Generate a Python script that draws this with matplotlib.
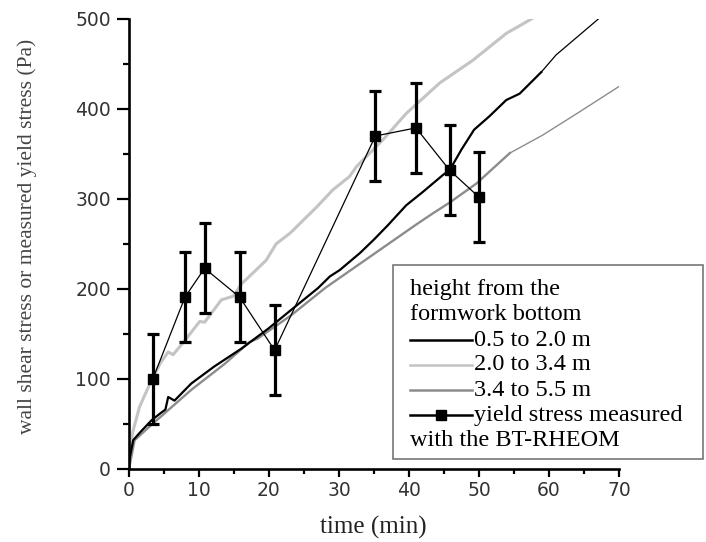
import numpy as np
import matplotlib.pyplot as plt
import matplotlib.lines as mlines
from matplotlib.patches import Rectangle
from matplotlib.ticker import MultipleLocator

# wall shear stress, 0.5 to 2.0 m
t_low = [0, 0.6, 1.5, 3.2, 4.5, 5.2, 5.6, 6.5, 8.9, 12.2, 16.1, 19.9, 23.2, 27.0,
         28.7, 30.1, 33.0, 35.0, 37.0, 39.6, 42.0, 44.9, 45.8, 47.5, 49.3, 51.5,
         53.9, 55.8, 58.9, 61.0, 67.2]
v_low = [8, 32, 40, 54, 62, 66, 80, 76, 95, 114, 134, 156, 177, 201,
         214, 221, 240, 255, 271, 293, 308, 327, 332, 355, 377, 392,
         410, 417, 441, 460, 501]

# 2.0 to 3.4 m
t_mid = [0, 0.5, 1.5, 3.0, 4.5, 5.6, 6.3, 8.0, 10.1, 10.8, 13.2, 14.9, 16.1,
         17.2, 19.6, 21.0, 23.0, 23.4, 26.8, 29.1, 31.5, 32.5, 34.9, 36.3,
         39.6, 44.4, 49.1, 53.9, 57.7]
v_mid = [5, 40, 69, 95, 118, 130, 127, 143, 164, 163, 188, 192, 206,
         214, 232, 250, 262, 265, 291, 310, 325, 336, 355, 366,
         395, 429, 454, 484, 501]

# 3.4 to 5.5 m
t_high = [0, 0.8, 3.2, 8.9, 13.7, 17.2, 18.4, 23.2, 28.0, 31.5, 36.3, 41.1,
          43.4, 45.8, 49.6, 54.4, 59.1, 64.4, 70.0]
v_high = [0, 32, 49, 88, 117, 141, 145, 171, 201, 220, 246, 272,
          284, 296, 317, 351, 371, 397, 425]

# yield stress measured with the BT-RHEOM
t_ys = [3.4, 8.0, 10.8, 15.8, 20.8, 35.2, 41.0, 45.8, 50.0]
v_ys = [100, 191, 223, 191, 132, 370, 379, 332, 302]
e_ys = [50, 50, 50, 50, 50, 50, 50, 50, 50]

labels = ['0.5 to 2.0 m', '2.0 to 3.4 m', '3.4 to 5.5 m', 'yield stress measured']
legend_title = ['height from the', 'formwork bottom']
legend_tail = 'with the BT-RHEOM'

c_low = 'black'
c_mid = '#c4c4c4'
c_high = '#8c8c8c'
serif = ['Liberation Serif', 'DejaVu Serif']

fig = plt.figure(figsize=(7.06, 5.42), dpi=100)
ax = fig.add_axes([129/706, 1 - 469/542, 490/706, 450/542])

# noisy part thicker, smooth tail thinner
ax.plot(t_mid, v_mid, color=c_mid, lw=2.2)
ax.plot(t_high[:-3], v_high[:-3], color=c_high, lw=1.7)
ax.plot(t_high[-4:], v_high[-4:], color=c_high, lw=1.0)
ax.plot(t_low[:-2], v_low[:-2], color=c_low, lw=1.6)
ax.plot(t_low[-3:], v_low[-3:], color=c_low, lw=0.9)

ax.errorbar(t_ys, v_ys, yerr=e_ys, fmt='-s', color='black', lw=0.9, ms=6.5,
            elinewidth=2.3, capsize=4.5, capthick=2.3, zorder=5)

ax.set_xlim(0, 70)
ax.set_ylim(0, 500)
ax.xaxis.set_major_locator(MultipleLocator(10))
ax.xaxis.set_minor_locator(MultipleLocator(5))
ax.yaxis.set_major_locator(MultipleLocator(100))
ax.yaxis.set_minor_locator(MultipleLocator(50))
for s in ['top', 'right']:
    ax.spines[s].set_visible(False)
for s in ['left', 'bottom']:
    ax.spines[s].set_linewidth(1.9)
ax.tick_params(which='both', direction='out', width=1.6,
               labelsize=13.5, labelcolor='#333333')
ax.tick_params(axis='y', which='major', length=8.5, pad=4.5)
ax.tick_params(axis='y', which='minor', length=4.5)
ax.tick_params(axis='x', which='major', length=6, pad=3)
ax.tick_params(axis='x', which='minor', length=3.5)
for lab in ax.get_xticklabels() + ax.get_yticklabels():
    lab.set_family('DejaVu Sans')

fig.text(373/706, 1 - 527/542, 'time (min)', family=serif, fontsize=18,
         color='#222222', ha='center', va='center')
fig.text(27/706, 1 - 236/542, 'wall shear stress or measured yield stress (Pa)',
         family=serif, fontsize=15.5, color='#444444', rotation=90,
         ha='center', va='center')

# legend box drawn by hand (last label wraps under the handle)
def fx(px):
    return px / 706

def fy(py):
    return 1 - py / 542

fs = 17.5
fig.patches.append(Rectangle((fx(393), fy(459)), fx(703) - fx(393), fy(265) - fy(459),
                             transform=fig.transFigure, fill=False, ec='#777777', lw=1.2))
rows = [290 + 25 * i for i in range(7)]
fig.text(fx(410), fy(rows[0]), legend_title[0], family=serif, fontsize=fs, va='center')
fig.text(fx(410), fy(rows[1]), legend_title[1], family=serif, fontsize=fs, va='center')
styles = [(c_low, 1.8), (c_mid, 1.8), (c_high, 1.8), ('black', 1.8)]
for i, (lab, (col, lw)) in enumerate(zip(labels, styles)):
    y = fy(rows[2 + i])
    fig.add_artist(mlines.Line2D([fx(410), fx(472)], [y, y], color=col, lw=lw))
    fig.text(fx(474), y, lab, family=serif, fontsize=fs, va='center')
fig.add_artist(mlines.Line2D([fx(441)], [fy(rows[5])], marker='s', ms=6.5, color='black'))
fig.text(fx(410), fy(rows[6]), legend_tail, family=serif, fontsize=fs, va='center')

fig.savefig('out.png', dpi=100)
